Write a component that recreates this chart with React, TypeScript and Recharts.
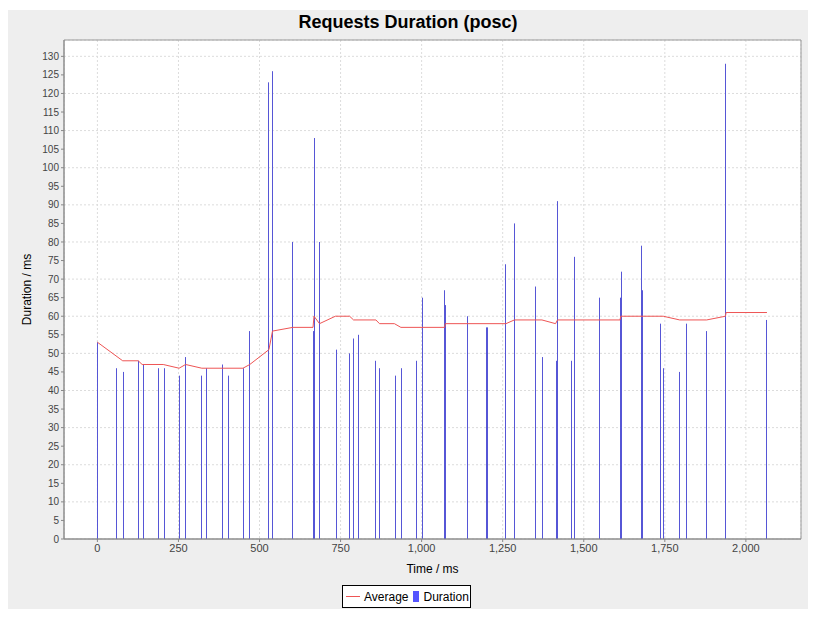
import { ComposedChart, Bar, Line, XAxis, YAxis, CartesianGrid, ReferenceArea } from 'recharts';

// request start times (ms) and their durations (ms)
const barTimes = [
  1, 59, 80, 126, 142, 188, 206, 252, 272, 322, 338, 386, 404, 450, 470, 529, 540, 603,
  667, 670, 685, 737, 778, 790, 804, 859, 870, 919, 938, 985, 1002, 1071, 1073, 1140,
  1199, 1203, 1260, 1286, 1351, 1372, 1415, 1419, 1463, 1472, 1549, 1612, 1615, 1679,
  1682, 1738, 1747, 1796, 1818, 1879, 1937, 1938, 2065,
];
const barDurations = [
  53, 46, 45, 48, 47, 46, 46, 44, 49, 44, 46, 47, 44, 46, 56, 123, 126, 80,
  56, 108, 80, 51, 50, 54, 55, 48, 46, 44, 46, 48, 65, 67, 63, 60,
  57, 57, 74, 85, 68, 49, 48, 91, 48, 76, 65, 65, 72, 79,
  67, 58, 46, 45, 58, 56, 128, 121, 59,
];

// running average
const avgTimes = [
  0, 78, 126, 138, 203, 252, 272, 322, 449, 470, 529, 540, 603, 665, 668, 685, 734, 778,
  790, 859, 870, 916, 936, 1071, 1073, 1260, 1286, 1371, 1413, 1419, 1612, 1614, 1745,
  1796, 1879, 1937, 1939, 2065,
];
const avgValues = [
  53, 48, 48, 47, 47, 46, 47, 46, 46, 47, 51, 56, 57, 57, 60, 58, 60, 60,
  59, 59, 58, 58, 57, 57, 58, 58, 59, 59, 58, 59, 59, 60, 60,
  59, 59, 60, 61, 61,
];

const xTicks = [0, 250, 500, 750, 1000, 1250, 1500, 1750, 2000];
const yTicks = [0, 5, 10, 15, 20, 25, 30, 35, 40, 45, 50, 55, 60, 65, 70, 75, 80, 85, 90, 95, 100, 105, 110, 115, 120, 125, 130];

const X_DOMAIN: [number, number] = [-103, 2170];
const Y_DOMAIN: [number, number] = [0, 134.4];

const barData = barTimes.map((t, i) => ({ t, duration: barDurations[i] }));
const avgData = avgTimes.map((t, i) => ({ t, average: avgValues[i] }));

const FONT = '"Liberation Sans", Arial, sans-serif';

// snap the thin bar onto a whole pixel column so it renders crisp
const ThinBar = (props: any) => {
  const { x, y, width, height, fill } = props;
  if (height == null || height <= 0) return null;
  const cx = Math.round(x + width / 2 - 0.5);
  return <rect x={cx} y={y} width={1} height={height} fill={fill} />;
};

export default function App() {
  return (
    <div style={{ position: 'relative', width: 800, height: 599, marginTop: 2, background: '#eeeeee', fontFamily: FONT }}>
      <div style={{ position: 'absolute', top: 2, left: 0, width: 800, textAlign: 'center', fontSize: 18, fontWeight: 'bold', color: '#000' }}>
        Requests Duration (posc)
      </div>
      <ComposedChart width={800} height={599} data={barData} margin={{ top: 30, right: 7, left: 0, bottom: 0 }}>
        <CartesianGrid fill="#ffffff" stroke="#dcdcdc" strokeDasharray="2 2" />
        <XAxis
          dataKey="t"
          type="number"
          domain={X_DOMAIN}
          ticks={xTicks}
          allowDataOverflow
          height={70}
          stroke="#888"
          tickSize={3}
          tick={{ fontSize: 11, fill: '#444', fontFamily: FONT }}
          tickFormatter={(v: number) => v.toLocaleString('en-US')}
          label={{ value: 'Time / ms', position: 'insideBottom', offset: 36, fontSize: 12, fill: '#000', fontFamily: FONT }}
        />
        <YAxis
          type="number"
          domain={Y_DOMAIN}
          ticks={yTicks}
          allowDataOverflow
          width={56}
          stroke="#888"
          tickSize={3}
          tick={{ fontSize: 10, fill: '#444', fontFamily: FONT }}
          label={{ value: 'Duration / ms', angle: -90, position: 'insideLeft', offset: 19, fontSize: 12, fill: '#000', fontFamily: FONT, style: { textAnchor: 'middle' } }}
        />
        <Bar dataKey="duration" fill="#5656d6" barSize={1} shape={ThinBar} isAnimationActive={false} />
        <Line data={avgData} dataKey="average" type="linear" stroke="#ee5555" strokeWidth={1} dot={false} activeDot={false} isAnimationActive={false} />
        <ReferenceArea x1={X_DOMAIN[0]} x2={X_DOMAIN[1]} y1={Y_DOMAIN[0]} y2={Y_DOMAIN[1]} fill="none" stroke="#999" ifOverflow="visible" />
      </ComposedChart>
      <div
        style={{
          position: 'absolute', left: 334, top: 575, width: 129, height: 23, boxSizing: 'border-box',
          border: '1px solid #000', background: '#fff', display: 'flex', alignItems: 'center',
          fontSize: 12, color: '#000', paddingLeft: 3,
        }}
      >
        <span style={{ display: 'inline-block', width: 14, height: 1, background: '#ee5555', marginRight: 4 }} />
        <span style={{ marginRight: 5 }}>Average</span>
        <span style={{ display: 'inline-block', width: 6, height: 11, background: '#5555ff', marginRight: 4 }} />
        <span>Duration</span>
      </div>
    </div>
  );
}
